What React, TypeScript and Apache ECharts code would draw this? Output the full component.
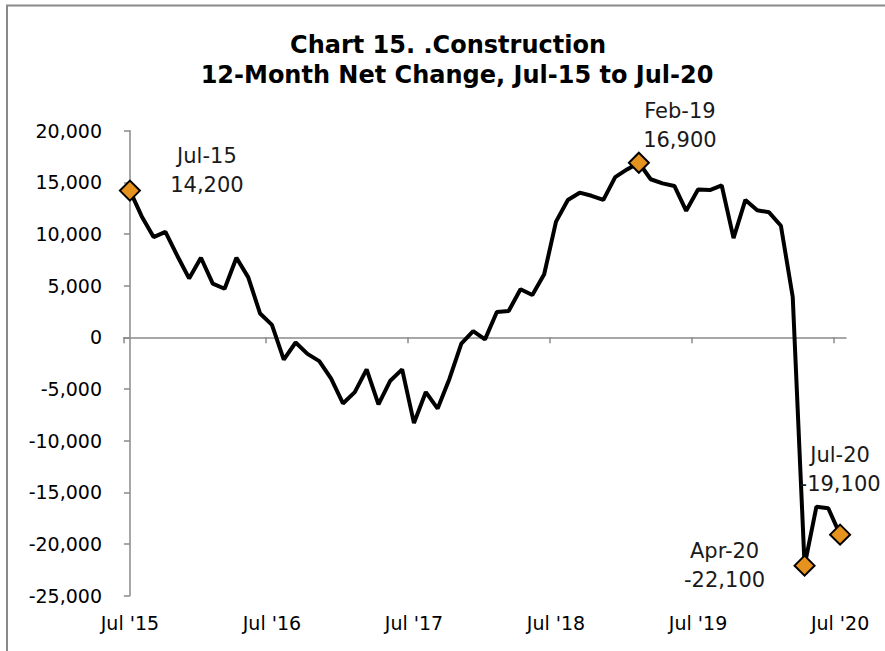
import React, { useEffect, useRef } from "react";
import * as echarts from "echarts";

const categories: string[] = [
  "Jul '15", "Aug '15", "Sep '15", "Oct '15", "Nov '15", "Dec '15",
  "Jan '16", "Feb '16", "Mar '16", "Apr '16", "May '16", "Jun '16",
  "Jul '16", "Aug '16", "Sep '16", "Oct '16", "Nov '16", "Dec '16",
  "Jan '17", "Feb '17", "Mar '17", "Apr '17", "May '17", "Jun '17",
  "Jul '17", "Aug '17", "Sep '17", "Oct '17", "Nov '17", "Dec '17",
  "Jan '18", "Feb '18", "Mar '18", "Apr '18", "May '18", "Jun '18",
  "Jul '18", "Aug '18", "Sep '18", "Oct '18", "Nov '18", "Dec '18",
  "Jan '19", "Feb '19", "Mar '19", "Apr '19", "May '19", "Jun '19",
  "Jul '19", "Aug '19", "Sep '19", "Oct '19", "Nov '19", "Dec '19",
  "Jan '20", "Feb '20", "Mar '20", "Apr '20", "May '20", "Jun '20",
  "Jul '20",
];

const netChange: number[] = [
  14200, 11700, 9700, 10200, 7900, 5700,
  7700, 5200, 4700, 7700, 5800, 2300,
  1200, -2150, -500, -1600, -2300, -4000,
  -6400, -5300, -3100, -6500, -4200, -3100,
  -8300, -5300, -6900, -4000, -600, 600,
  -200, 2450, 2550, 4650, 4100, 6100,
  11200, 13300, 14000, 13700, 13300, 15500,
  16250, 16900, 15300, 14900, 14650, 12250,
  14300, 14250, 14700, 9600, 13300, 12300,
  12100, 10800, 3900, -22100, -16400, -16550,
  -19100,
];

const highlightIndex: number[] = [0, 43, 57, 60];
const highlightName: string[] = ["Jul-15", "Feb-19", "Apr-20", "Jul-20"];

// x-axis tick marks sit on the category boundaries before each July
const xTickBoundaries: number[] = [-0.5, 11.5, 23.5, 35.5, 47.5, 59.5];

const yMin = -25000;
const yMax = 20000;
const yStep = 5000;

const titleLines: string[] = [
  "Chart 15. .Construction",
  "12-Month Net Change, Jul-15 to Jul-20",
];

const fmt = (v: number) => v.toLocaleString("en-US");

export default function App() {
  const ref = useRef<HTMLDivElement>(null);
  useEffect(() => {
    if (!ref.current) return;
    const chart = echarts.init(ref.current, null, { renderer: "svg" });
    const labelOffsets: number[][] = [[77, -20], [41, -37], [-80, 0], [0, -65]];
    const axisColor = "#8a8a8a";
    chart.setOption({
      animation: false,
      backgroundColor: "#ffffff",
      graphic: [
        {
          type: "rect",
          shape: { x: 7, y: 5.5, width: 900, height: 700 },
          style: { fill: "none", stroke: "#8a8a8a", lineWidth: 2 },
          silent: true,
        },
        {
          type: "text",
          x: 448,
          y: 45,
          style: {
            text: titleLines[0],
            align: "center",
            verticalAlign: "middle",
            fontFamily: "DejaVu Sans",
            fontWeight: "bold",
            fontSize: 24,
            fill: "#000",
          },
        },
        {
          type: "text",
          x: 457,
          y: 74.5,
          style: {
            text: titleLines[1],
            align: "center",
            verticalAlign: "middle",
            fontFamily: "DejaVu Sans",
            fontWeight: "bold",
            fontSize: 24,
            fill: "#000",
          },
        },
      ],
      grid: { left: 124, right: 39, top: 130.7, bottom: 55.4 },
      xAxis: [
        {
          type: "category",
          data: categories,
          boundaryGap: true,
          position: "bottom",
          axisLine: { show: false, onZero: false },
          axisTick: { show: false },
          axisLabel: {
            interval: 11,
            margin: 18,
            fontFamily: "DejaVu Sans",
            fontSize: 19,
            color: "#000",
          },
        },
        {
          type: "value",
          min: -0.5,
          max: categories.length - 0.5,
          position: "bottom",
          splitLine: { show: false },
          axisLine: { show: true, onZero: true, lineStyle: { color: axisColor, width: 1.5 } },
          axisTick: {
            show: true,
            length: 6,
            customValues: xTickBoundaries,
            lineStyle: { color: axisColor, width: 1.5 },
          },
          axisLabel: { show: false },
        },
      ],
      yAxis: {
        type: "value",
        min: yMin,
        max: yMax,
        interval: yStep,
        axisLine: { show: true, lineStyle: { color: axisColor, width: 1.5 } },
        axisTick: { show: true, length: 6, lineStyle: { color: axisColor, width: 1.5 } },
        splitLine: { show: false },
        axisLabel: {
          margin: 22,
          fontFamily: "DejaVu Sans",
          fontSize: 19,
          color: "#000",
          formatter: (v: number) => fmt(v),
        },
      },
      series: [
        {
          type: "line",
          data: netChange,
          xAxisIndex: 0,
          symbol: "none",
          lineStyle: { color: "#000", width: 4 },
          z: 2,
        },
        {
          type: "scatter",
          xAxisIndex: 0,
          symbol: "diamond",
          symbolSize: 20,
          itemStyle: { color: "#E6921E", borderColor: "#000", borderWidth: 2, opacity: 1 },
          z: 3,
          label: {
            show: true,
            position: "inside",
            align: "center",
            verticalAlign: "middle",
            fontFamily: "DejaVu Sans",
            fontSize: 21,
            lineHeight: 29,
            color: "#1a1a1a",
            formatter: (p: any) => `${p.name}\n${fmt(p.value[1])}`,
          },
          data: highlightIndex.map((idx, k) => ({
            name: highlightName[k],
            value: [idx, netChange[idx]],
            label: { offset: labelOffsets[k] },
          })),
        },
      ],
    });
    return () => chart.dispose();
  }, []);
  return (
    <div
      ref={ref}
      style={{ position: "fixed", left: 0, top: 0, width: 885, height: 651, background: "#fff" }}
    />
  );
}
